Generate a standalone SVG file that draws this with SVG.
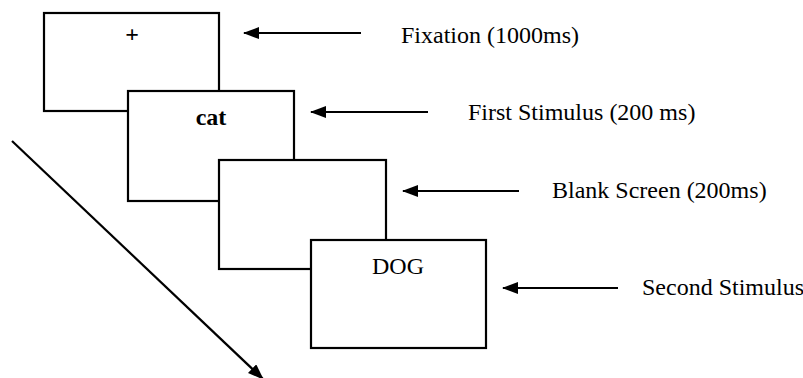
<svg xmlns="http://www.w3.org/2000/svg" width="803" height="378" viewBox="0 0 803 378">
<style>
.box{fill:#fff;stroke:#000;stroke-width:2.2}
.conn{stroke:#000;stroke-width:2.2;fill:none}
.t{font-family:'Liberation Serif','Times New Roman',serif;font-size:24px;fill:#000}
.in{text-anchor:middle}
.b{font-weight:bold}
</style>
<defs>
<marker id="ah" viewBox="0 0 16 12" refX="15" refY="6" markerWidth="16" markerHeight="12" markerUnits="userSpaceOnUse" orient="auto">
<path d="M0,0 L16,6 L0,12 Z" fill="#000"/>
</marker>
</defs>
<g id="screen1">
<rect class="box" x="44" y="13" width="175" height="98"/>
<text class="t in b" x="132" y="42">+</text>
</g>
<g id="screen2">
<rect class="box" x="128" y="91" width="166" height="110"/>
<text class="t in b" x="211" y="125">cat</text>
</g>
<g id="screen3">
<rect class="box" x="219" y="160" width="167" height="109"/>
</g>
<g id="screen4">
<rect class="box" x="311" y="240" width="175" height="108"/>
<text class="t in" x="398" y="274">DOG</text>
</g>
<g id="label1"><text class="t" x="401" y="43">Fixation (1000ms)</text></g>
<g id="label2"><text class="t" x="468" y="120">First Stimulus (200 ms)</text></g>
<g id="label3"><text class="t" x="552" y="198">Blank Screen (200ms)</text></g>
<g id="label4"><text class="t" x="642" y="295">Second Stimulus</text></g>
<g id="connectors">
<line class="conn" x1="361" y1="33" x2="244" y2="33" marker-end="url(#ah)"/>
<line class="conn" x1="428" y1="112" x2="311" y2="112" marker-end="url(#ah)"/>
<line class="conn" x1="519" y1="191" x2="403" y2="191" marker-end="url(#ah)"/>
<line class="conn" x1="618" y1="288" x2="503" y2="288" marker-end="url(#ah)"/>
<line class="conn" x1="12" y1="141" x2="263" y2="379" marker-end="url(#ah)"/>
</g>
</svg>
